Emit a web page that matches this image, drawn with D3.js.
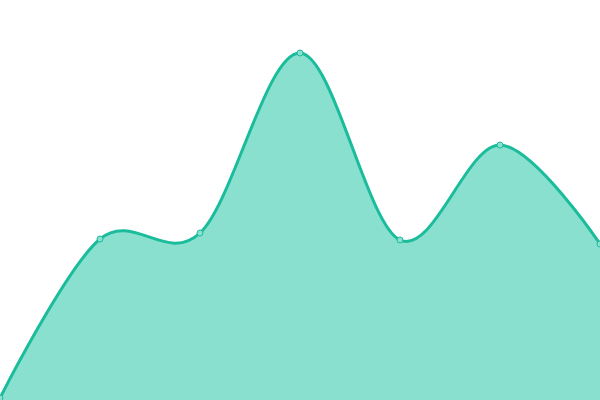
<!DOCTYPE html>
<html lang="en">
<head>
  <meta charset="UTF-8">
  <title>Area</title>
  <script src="https://d3js.org/d3.v7.min.js"></script>
  <style>
    body { margin: 0; background: #fff; }
    svg { display: block; }
  </style>
</head>
<body>
  <div id="chart"></div>
  <script>
    // data
    const steps = [0, 1, 2, 3, 4, 5, 6];
    const values = [2, 161, 167, 347, 160, 255, 156];

    const width = 600;
    const height = 400;

    const xScale = d3.scaleLinear().domain([0, 6]).range([0, width]);
    const yScale = d3.scaleLinear().domain([0, 400]).range([height, 0]);

    const data = steps.map((s, i) => ({ x: s, y: values[i] }));

    const svg = d3.select('#chart')
      .append('svg')
      .attr('width', width)
      .attr('height', height);

    const area = d3.area()
      .x(d => xScale(d.x))
      .y0(height)
      .y1(d => yScale(d.y))
      .curve(d3.curveCardinal);

    const line = d3.line()
      .x(d => xScale(d.x))
      .y(d => yScale(d.y))
      .curve(d3.curveCardinal);

    svg.append('path')
      .datum(data)
      .attr('d', area)
      .attr('fill', '#89e0cf');

    svg.append('path')
      .datum(data)
      .attr('d', line)
      .attr('fill', 'none')
      .attr('stroke', '#1abc9c')
      .attr('stroke-width', 3);

    svg.selectAll('.dot')
      .data(data)
      .enter()
      .append('circle')
      .attr('class', 'dot')
      .attr('cx', d => xScale(d.x))
      .attr('cy', d => yScale(d.y))
      .attr('r', 3)
      .attr('fill', '#89e0cf')
      .attr('stroke', '#1abc9c')
      .attr('stroke-width', 1);
  </script>
</body>
</html>
